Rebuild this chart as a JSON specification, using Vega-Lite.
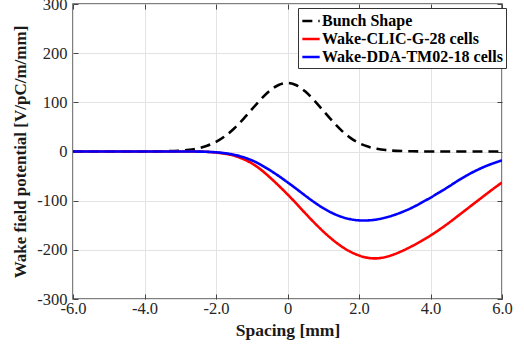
{
  "$schema": "https://vega.github.io/schema/vega-lite/v6.json",
  "autosize": "none",
  "width": 429,
  "height": 295,
  "padding": {"left": 73, "top": 4, "right": 22, "bottom": 55},
  "background": "white",
  "config": {
    "view": {"stroke": "#555555", "strokeWidth": 1.5},
    "font": "Liberation Serif, serif"
  },
  "datasets": {
    "curves": [
      {"x": -6, "v": 0, "s": "Bunch Shape"},
      {"x": -4, "v": 0, "s": "Bunch Shape"},
      {"x": -3.5, "v": 0.3, "s": "Bunch Shape"},
      {"x": -3, "v": 1.6, "s": "Bunch Shape"},
      {"x": -2.75, "v": 3.2, "s": "Bunch Shape"},
      {"x": -2.5, "v": 6.2, "s": "Bunch Shape"},
      {"x": -2.25, "v": 11.2, "s": "Bunch Shape"},
      {"x": -2, "v": 19.1, "s": "Bunch Shape"},
      {"x": -1.75, "v": 30.6, "s": "Bunch Shape"},
      {"x": -1.5, "v": 45.8, "s": "Bunch Shape"},
      {"x": -1.25, "v": 64.6, "s": "Bunch Shape"},
      {"x": -1, "v": 85.5, "s": "Bunch Shape"},
      {"x": -0.75, "v": 106.4, "s": "Bunch Shape"},
      {"x": -0.5, "v": 124.4, "s": "Bunch Shape"},
      {"x": -0.25, "v": 136.6, "s": "Bunch Shape"},
      {"x": 0, "v": 141, "s": "Bunch Shape"},
      {"x": 0.25, "v": 136, "s": "Bunch Shape"},
      {"x": 0.5, "v": 123, "s": "Bunch Shape"},
      {"x": 0.75, "v": 104, "s": "Bunch Shape"},
      {"x": 1, "v": 83, "s": "Bunch Shape"},
      {"x": 1.25, "v": 62, "s": "Bunch Shape"},
      {"x": 1.5, "v": 43, "s": "Bunch Shape"},
      {"x": 1.75, "v": 27.5, "s": "Bunch Shape"},
      {"x": 2, "v": 16.5, "s": "Bunch Shape"},
      {"x": 2.25, "v": 9.5, "s": "Bunch Shape"},
      {"x": 2.5, "v": 5.2, "s": "Bunch Shape"},
      {"x": 2.75, "v": 2.7, "s": "Bunch Shape"},
      {"x": 3, "v": 1.3, "s": "Bunch Shape"},
      {"x": 3.5, "v": 0.3, "s": "Bunch Shape"},
      {"x": 4, "v": 0, "s": "Bunch Shape"},
      {"x": 6, "v": 0, "s": "Bunch Shape"},

      {"x": -6, "v": 0, "s": "Wake-CLIC-G-28 cells"},
      {"x": -4, "v": 0, "s": "Wake-CLIC-G-28 cells"},
      {"x": -3, "v": 0, "s": "Wake-CLIC-G-28 cells"},
      {"x": -2.5, "v": -0.1, "s": "Wake-CLIC-G-28 cells"},
      {"x": -2.25, "v": -0.6, "s": "Wake-CLIC-G-28 cells"},
      {"x": -2, "v": -2, "s": "Wake-CLIC-G-28 cells"},
      {"x": -1.75, "v": -4.2, "s": "Wake-CLIC-G-28 cells"},
      {"x": -1.5, "v": -8, "s": "Wake-CLIC-G-28 cells"},
      {"x": -1.25, "v": -14.5, "s": "Wake-CLIC-G-28 cells"},
      {"x": -1, "v": -23.5, "s": "Wake-CLIC-G-28 cells"},
      {"x": -0.75, "v": -36, "s": "Wake-CLIC-G-28 cells"},
      {"x": -0.5, "v": -52, "s": "Wake-CLIC-G-28 cells"},
      {"x": -0.25, "v": -69, "s": "Wake-CLIC-G-28 cells"},
      {"x": 0, "v": -87, "s": "Wake-CLIC-G-28 cells"},
      {"x": 0.25, "v": -106, "s": "Wake-CLIC-G-28 cells"},
      {"x": 0.5, "v": -126, "s": "Wake-CLIC-G-28 cells"},
      {"x": 0.75, "v": -145, "s": "Wake-CLIC-G-28 cells"},
      {"x": 1, "v": -163, "s": "Wake-CLIC-G-28 cells"},
      {"x": 1.25, "v": -179, "s": "Wake-CLIC-G-28 cells"},
      {"x": 1.5, "v": -193, "s": "Wake-CLIC-G-28 cells"},
      {"x": 1.75, "v": -204, "s": "Wake-CLIC-G-28 cells"},
      {"x": 2, "v": -212, "s": "Wake-CLIC-G-28 cells"},
      {"x": 2.25, "v": -217, "s": "Wake-CLIC-G-28 cells"},
      {"x": 2.5, "v": -218, "s": "Wake-CLIC-G-28 cells"},
      {"x": 2.75, "v": -215, "s": "Wake-CLIC-G-28 cells"},
      {"x": 3, "v": -209, "s": "Wake-CLIC-G-28 cells"},
      {"x": 3.25, "v": -201, "s": "Wake-CLIC-G-28 cells"},
      {"x": 3.5, "v": -192, "s": "Wake-CLIC-G-28 cells"},
      {"x": 3.75, "v": -182, "s": "Wake-CLIC-G-28 cells"},
      {"x": 4, "v": -171, "s": "Wake-CLIC-G-28 cells"},
      {"x": 4.25, "v": -159, "s": "Wake-CLIC-G-28 cells"},
      {"x": 4.5, "v": -146, "s": "Wake-CLIC-G-28 cells"},
      {"x": 4.75, "v": -132, "s": "Wake-CLIC-G-28 cells"},
      {"x": 5, "v": -118, "s": "Wake-CLIC-G-28 cells"},
      {"x": 5.25, "v": -104, "s": "Wake-CLIC-G-28 cells"},
      {"x": 5.5, "v": -90, "s": "Wake-CLIC-G-28 cells"},
      {"x": 5.75, "v": -76, "s": "Wake-CLIC-G-28 cells"},
      {"x": 6, "v": -63, "s": "Wake-CLIC-G-28 cells"},

      {"x": -6, "v": 0, "s": "Wake-DDA-TM02-18 cells"},
      {"x": -4, "v": 0, "s": "Wake-DDA-TM02-18 cells"},
      {"x": -3, "v": 0, "s": "Wake-DDA-TM02-18 cells"},
      {"x": -2.5, "v": -0.1, "s": "Wake-DDA-TM02-18 cells"},
      {"x": -2.25, "v": -0.5, "s": "Wake-DDA-TM02-18 cells"},
      {"x": -2, "v": -1.5, "s": "Wake-DDA-TM02-18 cells"},
      {"x": -1.75, "v": -3.3, "s": "Wake-DDA-TM02-18 cells"},
      {"x": -1.5, "v": -6.3, "s": "Wake-DDA-TM02-18 cells"},
      {"x": -1.25, "v": -11, "s": "Wake-DDA-TM02-18 cells"},
      {"x": -1, "v": -17.5, "s": "Wake-DDA-TM02-18 cells"},
      {"x": -0.75, "v": -26.5, "s": "Wake-DDA-TM02-18 cells"},
      {"x": -0.5, "v": -37.5, "s": "Wake-DDA-TM02-18 cells"},
      {"x": -0.25, "v": -49.5, "s": "Wake-DDA-TM02-18 cells"},
      {"x": 0, "v": -62.5, "s": "Wake-DDA-TM02-18 cells"},
      {"x": 0.25, "v": -76, "s": "Wake-DDA-TM02-18 cells"},
      {"x": 0.5, "v": -90, "s": "Wake-DDA-TM02-18 cells"},
      {"x": 0.75, "v": -103.5, "s": "Wake-DDA-TM02-18 cells"},
      {"x": 1, "v": -115.5, "s": "Wake-DDA-TM02-18 cells"},
      {"x": 1.25, "v": -125.5, "s": "Wake-DDA-TM02-18 cells"},
      {"x": 1.5, "v": -133, "s": "Wake-DDA-TM02-18 cells"},
      {"x": 1.75, "v": -138, "s": "Wake-DDA-TM02-18 cells"},
      {"x": 2, "v": -140.5, "s": "Wake-DDA-TM02-18 cells"},
      {"x": 2.25, "v": -140.5, "s": "Wake-DDA-TM02-18 cells"},
      {"x": 2.5, "v": -138.5, "s": "Wake-DDA-TM02-18 cells"},
      {"x": 2.75, "v": -134.5, "s": "Wake-DDA-TM02-18 cells"},
      {"x": 3, "v": -129, "s": "Wake-DDA-TM02-18 cells"},
      {"x": 3.25, "v": -122, "s": "Wake-DDA-TM02-18 cells"},
      {"x": 3.5, "v": -114, "s": "Wake-DDA-TM02-18 cells"},
      {"x": 3.75, "v": -104, "s": "Wake-DDA-TM02-18 cells"},
      {"x": 4, "v": -94, "s": "Wake-DDA-TM02-18 cells"},
      {"x": 4.25, "v": -83, "s": "Wake-DDA-TM02-18 cells"},
      {"x": 4.5, "v": -72, "s": "Wake-DDA-TM02-18 cells"},
      {"x": 4.75, "v": -60, "s": "Wake-DDA-TM02-18 cells"},
      {"x": 5, "v": -49, "s": "Wake-DDA-TM02-18 cells"},
      {"x": 5.25, "v": -39.5, "s": "Wake-DDA-TM02-18 cells"},
      {"x": 5.5, "v": -31, "s": "Wake-DDA-TM02-18 cells"},
      {"x": 5.75, "v": -24, "s": "Wake-DDA-TM02-18 cells"},
      {"x": 6, "v": -18, "s": "Wake-DDA-TM02-18 cells"}
    ]
  },
  "data": {"name": "curves"},
  "resolve": {"axis": {"x": "independent", "y": "independent"}},
  "layer": [
    {
      "mark": {"type": "line", "strokeWidth": 2.6, "interpolate": "basis", "clip": true},
      "encoding": {
        "x": {
          "field": "x", "type": "quantitative",
          "scale": {"domain": [-6, 6], "nice": false, "zero": false},
          "axis": {
            "title": "Spacing [mm]",
            "values": [-6, -4, -2, 0, 2, 4, 6],
            "labelExpr": "datum.value == 0 ? '0' : replace(format(datum.value, '.1f'), '\u2212', '-')",
            "labelFont": "Liberation Serif, serif", "labelFontSize": 16.5, "labelColor": "#262626",
            "labelPadding": 6, "labelFlush": false,
            "titleFont": "Liberation Serif, serif", "titleFontSize": 17.5, "titleFontWeight": "bold", "titleColor": "#1a1a1a",
            "titlePadding": 5,
            "grid": true, "gridColor": "#e3e3e3", "gridWidth": 1,
            "domain": false,
            "ticks": true, "tickSize": -5, "tickColor": "#444444", "tickWidth": 1
          }
        },
        "y": {
          "field": "v", "type": "quantitative",
          "scale": {"domain": [-300, 300], "nice": false, "zero": false},
          "axis": {
            "title": "Wake field potential [V/pC/m/mm]",
            "values": [-300, -200, -100, 0, 100, 200, 300],
            "labelExpr": "replace(format(datum.value, 'd'), '\u2212', '-')",
            "labelFont": "Liberation Serif, serif", "labelFontSize": 16.5, "labelColor": "#262626",
            "labelPadding": 11, "labelFlush": false,
            "titleFont": "Liberation Serif, serif", "titleFontSize": 17, "titleFontWeight": "bold", "titleColor": "#1a1a1a",
            "titlePadding": 7,
            "grid": true, "gridColor": "#e3e3e3", "gridWidth": 1,
            "domain": false,
            "ticks": true, "tickSize": -5, "tickColor": "#444444", "tickWidth": 1
          }
        },
        "color": {
          "field": "s", "type": "nominal",
          "scale": {
            "domain": ["Bunch Shape", "Wake-CLIC-G-28 cells", "Wake-DDA-TM02-18 cells"],
            "range": ["#000000", "#ff0000", "#0000ff"]
          },
          "legend": {
            "title": null,
            "orient": "none",
            "legendX": 225,
            "legendY": 4,
            "direction": "vertical",
            "fillColor": "white",
            "strokeColor": "#333333",
            "padding": 3,
            "rowPadding": 0,
            "symbolType": "stroke",
            "symbolSize": 300,
            "symbolStrokeWidth": 2.5,
            "symbolOffset": 0,
            "labelFont": "Liberation Serif, serif",
            "labelFontSize": 16,
            "labelFontWeight": "bold",
            "labelColor": "#000000",
            "labelOffset": 1,
            "labelLimit": 300
          }
        },
        "strokeDash": {
          "field": "s", "type": "nominal",
          "scale": {
            "domain": ["Bunch Shape", "Wake-CLIC-G-28 cells", "Wake-DDA-TM02-18 cells"],
            "range": [[10, 6], [1, 0], [1, 0]]
          },
          "legend": null
        }
      }
    },
    {
      "mark": {"type": "rule", "opacity": 0},
      "encoding": {
        "x": {
          "field": "x", "type": "quantitative",
          "axis": {
            "orient": "top", "title": null, "labels": false,
            "values": [-6, -4, -2, 0, 2, 4, 6],
            "grid": false, "domain": false,
            "ticks": true, "tickSize": -5, "tickColor": "#444444", "tickWidth": 1
          }
        },
        "y": {
          "field": "v", "type": "quantitative",
          "axis": {
            "orient": "right", "title": null, "labels": false,
            "values": [-300, -200, -100, 0, 100, 200, 300],
            "grid": false, "domain": false,
            "ticks": true, "tickSize": -5, "tickColor": "#444444", "tickWidth": 1
          }
        }
      }
    }
  ]
}
